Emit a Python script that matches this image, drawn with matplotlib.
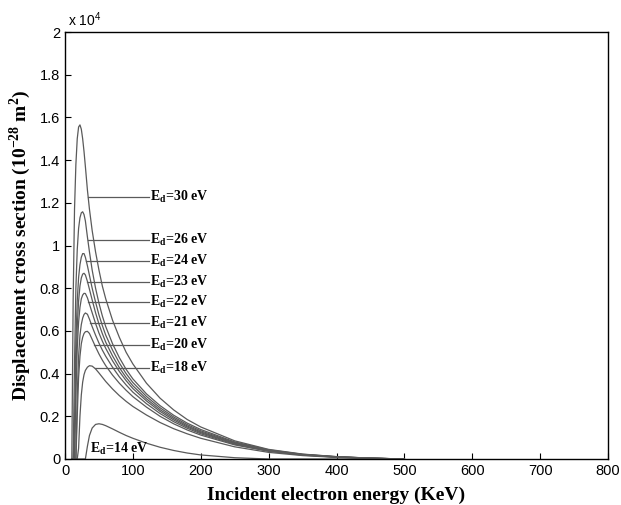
import numpy as np
import matplotlib.pyplot as plt
from matplotlib.ticker import FuncFormatter

plt.rcParams['mathtext.fontset'] = 'custom'
plt.rcParams['mathtext.rm'] = 'Liberation Sans'
plt.rcParams['mathtext.bf'] = 'Liberation Serif:bold'

# incident electron energy grid (keV)
energy = [10, 12, 14, 16, 18, 20, 22, 24, 26, 28, 30, 33, 36, 40, 45, 50, 55, 60,
          70, 80, 90, 100, 120, 140, 160, 180, 200, 250, 300, 350, 400, 450, 500]

# displacement cross section (x 1e4, units of 1e-28 m^2)
sigma_30 = [0, 0.75, 1.17, 1.38, 1.5, 1.555, 1.565, 1.545, 1.5, 1.44, 1.37, 1.26, 1.17,
            1.07, 0.97, 0.885, 0.81, 0.75, 0.65, 0.57, 0.5, 0.445, 0.355, 0.285, 0.23,
            0.185, 0.15, 0.085, 0.045, 0.023, 0.011, 0.004, 0]
sigma_26 = [0, 0, 0.45, 0.8, 0.98, 1.08, 1.13, 1.153, 1.158, 1.145, 1.115, 1.04, 0.97,
            0.885, 0.8, 0.73, 0.67, 0.62, 0.54, 0.475, 0.42, 0.375, 0.305, 0.25, 0.205,
            0.168, 0.138, 0.08, 0.043, 0.022, 0.011, 0.004, 0]
sigma_24 = [0, 0, 0.15, 0.55, 0.74, 0.85, 0.91, 0.945, 0.962, 0.962, 0.945, 0.905, 0.86,
            0.8, 0.735, 0.675, 0.625, 0.58, 0.51, 0.45, 0.4, 0.358, 0.293, 0.24, 0.197,
            0.161, 0.132, 0.077, 0.041, 0.021, 0.01, 0.004, 0]
sigma_23 = [0, 0, 0, 0.4, 0.62, 0.74, 0.81, 0.848, 0.866, 0.87, 0.862, 0.832, 0.795,
            0.745, 0.685, 0.632, 0.587, 0.547, 0.483, 0.428, 0.382, 0.343, 0.282, 0.231, 0.19,
            0.155, 0.127, 0.074, 0.04, 0.02, 0.01, 0.004, 0]
sigma_22 = [0, 0, 0, 0.3, 0.52, 0.64, 0.71, 0.75, 0.768, 0.776, 0.775, 0.755, 0.725,
            0.685, 0.635, 0.59, 0.552, 0.518, 0.46, 0.41, 0.367, 0.33, 0.272, 0.223, 0.183,
            0.15, 0.123, 0.072, 0.039, 0.02, 0.0095, 0.0035, 0]
sigma_21 = [0, 0, 0, 0, 0.3, 0.48, 0.58, 0.63, 0.66, 0.677, 0.684, 0.678, 0.655,
            0.62, 0.58, 0.543, 0.51, 0.481, 0.43, 0.385, 0.347, 0.313, 0.259, 0.213, 0.175,
            0.144, 0.118, 0.069, 0.037, 0.019, 0.009, 0.0033, 0]
sigma_20 = [0, 0, 0, 0, 0.2, 0.38, 0.48, 0.54, 0.57, 0.588, 0.596, 0.598, 0.588,
            0.56, 0.525, 0.492, 0.463, 0.437, 0.393, 0.355, 0.322, 0.292, 0.243, 0.2, 0.165,
            0.136, 0.112, 0.066, 0.036, 0.018, 0.0087, 0.0032, 0]
sigma_18 = [0, 0, 0, 0, 0, 0.05, 0.2, 0.3, 0.36, 0.395, 0.415, 0.43, 0.437,
            0.435, 0.422, 0.403, 0.383, 0.363, 0.328, 0.297, 0.27, 0.246, 0.206, 0.171, 0.142,
            0.118, 0.097, 0.057, 0.031, 0.016, 0.0075, 0.0027, 0]
sigma_14 = [0, 0, 0, 0, 0, 0, 0, 0, 0, 0, 0, 0.06, 0.11,
            0.145, 0.162, 0.165, 0.162, 0.156, 0.141, 0.125, 0.11, 0.097, 0.074, 0.055, 0.04,
            0.028, 0.019, 0.006, 0, 0, 0, 0, 0]

curves = [sigma_30, sigma_26, sigma_24, sigma_23, sigma_22, sigma_21, sigma_20, sigma_18, sigma_14]
ed_labels = ['30', '26', '24', '23', '22', '21', '20', '18', '14']

# leader lines: where each one leaves its curve (keV, value x 1e4)
leader_x = [34, 33.4, 31, 32, 34, 37, 42, 44]
leader_y = [1.229, 1.026, 0.927, 0.83, 0.737, 0.636, 0.534, 0.425]

fig = plt.figure(figsize=(6.21, 5.05), dpi=100)
ax = fig.add_axes([0.1047, 0.0911, 0.8744, 0.8455])

for s in curves:
    ax.plot(energy, s, color='#5a5a5a', linewidth=0.9)

lab_font = dict(family='Liberation Serif', fontweight='bold', fontsize=10)
for lx, ly, ed in zip(leader_x, leader_y, ed_labels[:8]):
    ax.plot([lx, 124], [ly, ly], color='#5a5a5a', linewidth=0.9)
    ax.text(125, ly, r'E$_\mathbf{d}$=' + ed + ' eV', va='center', ha='left', **lab_font)
ax.text(37, 0.05, r'E$_\mathbf{d}$=' + ed_labels[8] + ' eV', va='center', ha='left', **lab_font)

ax.set_xlim(0, 800)
ax.set_ylim(0, 2)
ax.set_xticks(np.arange(0, 801, 100))
ax.set_yticks(np.arange(0, 2.01, 0.2))
ax.yaxis.set_major_formatter(FuncFormatter(lambda v, p: '%g' % round(v, 1)))
ax.tick_params(direction='in', length=4, labelsize=10.5, width=0.8)
for lbl in ax.get_xticklabels() + ax.get_yticklabels():
    lbl.set_family('Liberation Sans')
for sp in ax.spines.values():
    sp.set_linewidth(1.0)

ax.text(0.005, 1.008, r'x 10$^\mathregular{4}$', transform=ax.transAxes, family='Liberation Sans',
        fontsize=10, va='bottom', ha='left')

ax.set_xlabel('Incident electron energy (KeV)', family='Liberation Serif', fontweight='bold',
              fontsize=14, labelpad=6)
ax.set_ylabel(r'Displacement cross section (10$^{\mathbf{-28}}$ m$^{\mathbf{2}}$)',
              family='Liberation Serif', fontweight='bold', fontsize=14, labelpad=5)

fig.savefig('out.png', dpi=100)
